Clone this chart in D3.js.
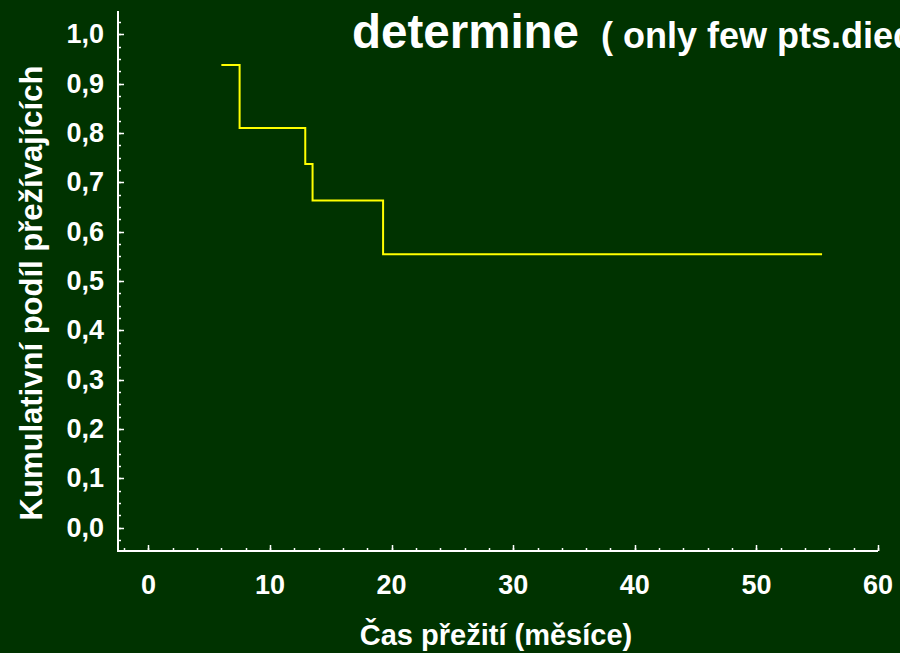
<!DOCTYPE html>
<html>
<head>
    <title></title>
    <script src="https://d3js.org/d3.v7.min.js"></script>
    <style type="text/css">
        html, body {
            margin: 0;
            padding: 0;
            background: #003300;
        }
        svg {
            display: block;
            font-family: "Liberation Sans", Arial, sans-serif;
            font-weight: bold;
        }
    </style>
</head>
<body>

    <svg id="main"></svg>

    <script>
      // data (Kaplan-Meier steps)
      const times    = [6, 7.5, 12.9, 13.5, 19.3, 55.4];
      const survival = [0.9375, 0.81, 0.737, 0.663, 0.554, 0.554];

      const xTicks = [0, 10, 20, 30, 40, 50, 60];
      const yTicks = [0, 0.1, 0.2, 0.3, 0.4, 0.5, 0.6, 0.7, 0.8, 0.9, 1.0];

      const titleMain = "determine";
      const titleSub  = "( only few pts.died";
      const xLabel    = "Čas přežití (měsíce)";
      const yLabel    = "Kumulativní podíl přežívajících";

      // settings
      const width  = 900;
      const height = 653;
      const BG     = "#003300";
      const FG     = "#ffffff";

      const svg = d3.select("#main")
        .attr("width", width)
        .attr("height", height);

      svg.append("rect")
        .attr("width", width)
        .attr("height", height)
        .attr("fill", BG);

      const x = d3.scaleLinear().domain([-2.5, 60]).range([118, 878]);
      const y = d3.scaleLinear().domain([-0.047, 1.047]).range([551, 11]);

      // minor ticks
      const xMinor = d3.range(-2, 60.001, 2);
      const yMinor = d3.range(-0.025, 1.05, 0.025);

      const g = svg.append("g");

      // axis lines
      g.append("path")
        .attr("d", `M${x.range()[0]},${y.range()[1]}V${y.range()[0]}H${x.range()[1]}`)
        .attr("fill", "none")
        .attr("stroke", FG)
        .attr("stroke-width", 2);

      function yTickLines(data, len) {
        g.append("g").selectAll("line")
          .data(data)
          .enter()
          .append("line")
          .attr("x1", x.range()[0])
          .attr("x2", x.range()[0] + len)
          .attr("y1", d => Math.round(y(d)) + 0.5)
          .attr("y2", d => Math.round(y(d)) + 0.5)
          .attr("stroke", FG)
          .attr("stroke-width", 1.5);
      }
      function xTickLines(data, len) {
        g.append("g").selectAll("line")
          .data(data)
          .enter()
          .append("line")
          .attr("x1", d => Math.round(x(d)) + 0.5)
          .attr("x2", d => Math.round(x(d)) + 0.5)
          .attr("y1", y.range()[0])
          .attr("y2", y.range()[0] - len)
          .attr("stroke", FG)
          .attr("stroke-width", 1.5);
      }
      yTickLines(yMinor, 3);
      yTickLines(yTicks, 6);
      xTickLines(xMinor, 3);
      xTickLines(xTicks, 6);

      // tick labels
      const fmt = d => d3.format(".1f")(d).replace(".", ",");

      g.selectAll(".ylab")
        .data(yTicks)
        .enter()
        .append("text")
        .attr("x", 104)
        .attr("y", d => y(d) + 9)
        .attr("text-anchor", "end")
        .attr("font-size", 27)
        .attr("fill", FG)
        .text(fmt);

      g.selectAll(".xlab")
        .data(xTicks)
        .enter()
        .append("text")
        .attr("x", d => x(d))
        .attr("y", 594)
        .attr("text-anchor", "middle")
        .attr("font-size", 27)
        .attr("fill", FG)
        .text(d => d);

      // axis titles
      svg.append("text")
        .attr("x", 496)
        .attr("y", 645)
        .attr("text-anchor", "middle")
        .attr("font-size", 29)
        .attr("fill", FG)
        .text(xLabel);

      svg.append("text")
        .attr("transform", "translate(42,293) rotate(-90)")
        .attr("text-anchor", "middle")
        .attr("font-size", 31)
        .attr("fill", FG)
        .text(yLabel);

      // title
      svg.append("text")
        .attr("x", 352)
        .attr("y", 48)
        .attr("font-size", 47.5)
        .attr("fill", FG)
        .text(titleMain);
      svg.append("text")
        .attr("x", 601)
        .attr("y", 48)
        .attr("font-size", 36)
        .attr("fill", FG)
        .text(titleSub);

      // survival curve
      const pts = times.map((t, i) => [t, survival[i]]);
      const line = d3.line()
        .x(d => x(d[0]))
        .y(d => y(d[1]))
        .curve(d3.curveStepAfter);

      g.append("path")
        .datum(pts)
        .attr("d", line)
        .attr("fill", "none")
        .attr("stroke", "#ffff00")
        .attr("stroke-width", 2);
    </script>

</body>
</html>
